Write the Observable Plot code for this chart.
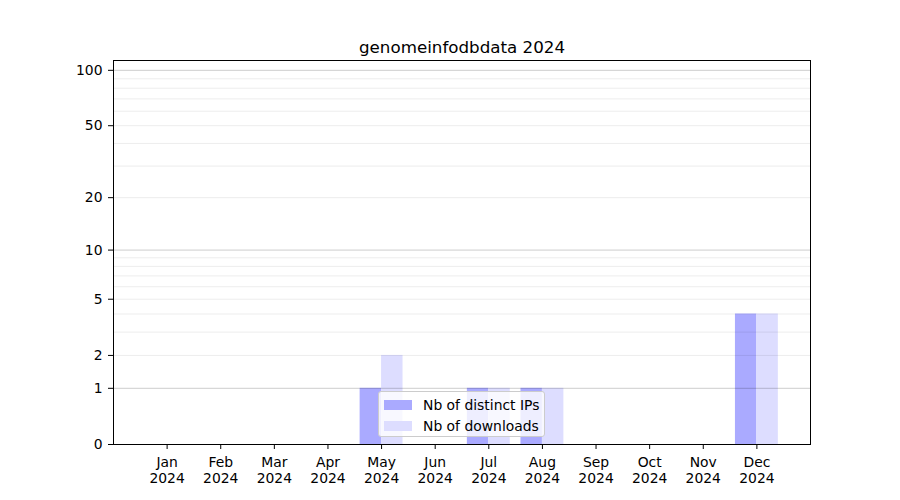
<!DOCTYPE html>
<html>
<head>
<meta charset="utf-8">
<script src="https://cdn.jsdelivr.net/npm/d3@7"></script>
<script src="https://cdn.jsdelivr.net/npm/@observablehq/plot@0.6"></script>
<style>
  body { margin: 0; background: #fff; font-family: "DejaVu Sans", sans-serif; }
  #wrap { position: relative; width: 900px; height: 500px; }
  #legend {
    position: absolute; left: 378px; top: 391px; width: 165px; height: 44px;
    background: rgba(255,255,255,0.8); border: 1px solid #cccccc; border-radius: 3px;
    font-size: 13.9px; color: #000;
  }
  .item { position: absolute; left: 5px; height: 16px; display: flex; align-items: center; }
  .sw { width: 28px; height: 10px; margin-right: 11px; }
</style>
</head>
<body>
<div id="wrap"></div>
<script>
const title = "genomeinfodbdata 2024";
const months = ["Jan","Feb","Mar","Apr","May","Jun","Jul","Aug","Sep","Oct","Nov","Dec"];
const year = "2024";
const distinctIPs = [0,0,0,0,1,0,1,1,0,0,0,4];
const downloads   = [0,0,0,0,2,0,1,1,0,0,0,4];
const yTicks = [0,1,2,5,10,20,50,100];
const majorGrid = [1,10,100];
const minorGrid = [2,3,4,5,6,7,8,9,20,30,40,50,60,70,80,90];
const seriesNames = ["Nb of distinct IPs","Nb of downloads"];
const seriesColors = ["#aaaaff","#ddddff"];

const rows = months.map((m, i) => ({i, ips: distinctIPs[i], dl: downloads[i]}));

const chart = Plot.plot({
  width: 900, height: 500,
  marginLeft: 113, marginRight: 90, marginTop: 60, marginBottom: 56,
  style: {fontFamily: "DejaVu Sans, sans-serif", fontSize: "13.9px", color: "#000", background: "#fff"},
  x: {type: "linear", domain: [-1, 12]},
  y: {type: "symlog", domain: [0, 113]},
  marks: [
    Plot.rectY(rows.filter(d => d.ips > 0), {x1: d => d.i - 0.4, x2: d => d.i, y1: 0, y2: "ips", fill: seriesColors[0]}),
    Plot.rectY(rows.filter(d => d.dl > 0), {x1: d => d.i, x2: d => d.i + 0.4, y1: 0, y2: "dl", fill: seriesColors[1]}),
    Plot.ruleY(minorGrid, {stroke: "#000", strokeOpacity: 0.075, strokeWidth: 1}),
    Plot.ruleY(majorGrid, {stroke: "#000", strokeOpacity: 0.2, strokeWidth: 1}),
    Plot.frame({stroke: "#000", strokeWidth: 1}),
    Plot.axisX({ticks: d3.range(12), tickFormat: i => months[i] + "\n" + year, tickSize: 5, tickPadding: 6, fontSize: 13.9, label: null, lineHeight: 1.15}),
    Plot.axisY({ticks: yTicks, tickFormat: d => String(d), tickSize: 5, tickPadding: 6, fontSize: 13.9, label: null}),
    Plot.text([title], {frameAnchor: "top", lineAnchor: "bottom", dy: -8, fontSize: 16.7, fill: "#000"})
  ]
});
const wrap = document.getElementById("wrap");
wrap.appendChild(chart);
const legend = document.createElement("div");
legend.id = "legend";
seriesNames.forEach((name, k) => {
  const it = document.createElement("div");
  it.className = "item";
  it.style.top = (5 + k * 21) + "px";
  const sw = document.createElement("div");
  sw.className = "sw";
  sw.style.background = seriesColors[k];
  it.appendChild(sw);
  it.appendChild(document.createTextNode(name));
  legend.appendChild(it);
});
wrap.appendChild(legend);
</script>
</body>
</html>
